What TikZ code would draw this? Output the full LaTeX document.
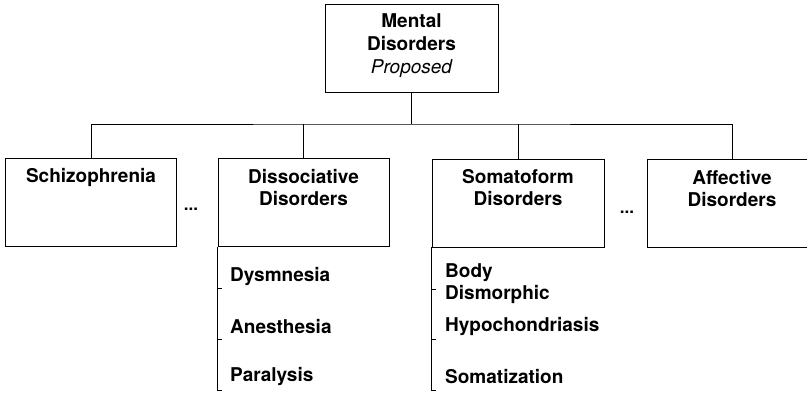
\documentclass[tikz,border=0pt]{standalone}
\usepackage{fontspec}
\setmainfont{TeX Gyre Heros}
\usetikzlibrary{positioning}
\tikzstyle{block} = [draw, rectangle, minimum width=171pt, minimum height=88pt, line width=0.9pt]
\tikzstyle{title} = [align=center, anchor=north, inner sep=0pt, font=\fontsize{19}{22}\selectfont\bfseries]
\tikzstyle{item} = [anchor=west, align=left, inner sep=0pt, font=\fontsize{19}{22}\selectfont\bfseries]
\tikzstyle{dots} = [inner sep=0pt, font=\fontsize{17}{17}\selectfont\bfseries]
\tikzstyle{link} = [line width=0.9pt]

\begin{document}
\begin{tikzpicture}[x=1pt,y=-1pt]
\useasboundingbox (0,0) rectangle (807,393);
\clip (0,0) rectangle (807,393);
\node [block, minimum width=173pt] (mental) at (411.5,48) {};
\node [title, below=10pt of mental.north, font=\fontsize{19}{23}\selectfont\bfseries] (mentalt) {Mental\\Disorders\\{\mdseries\itshape Proposed}};

\node [block] (schiz) at (91,202) {};
\node [block] (dissoc) at (303.5,202.5) {};
\node [block, minimum width=172pt] (somato) at (518,203) {};
\node [block, minimum width=170pt] (affect) at (732,203.5) {};

\node [title, below=11pt of schiz.north] (schizt) {Schizophrenia};
\node [title, below=11pt of dissoc.north] (dissoct) {Dissociative\\Disorders};
\node [title, below=11pt of somato.north] (somatot) {Somatoform\\Disorders};
\node [title, below=11pt of affect.north] (affectt) {Affective\\Disorders};

\node [dots] (dotsa) at (191,209) {...};
\node [dots] (dotsb) at (627,212) {...};

% the bus
\coordinate (bus) at (411.5,124);
\draw [link] (mental.south) -- (bus);
\draw [link] (schiz.north) |- (bus) -| (affect.north);
\draw [link] (dissoc.north) -- (dissoc.north |- bus);
\draw [link] (somato.north) -- (somato.north |- bus);

% sub-lists
\node [item] (dysm) at (230,277) {Dysmnesia};
\node [item] (anes) at (230,327) {Anesthesia};
\node [item] (para) at (230,377) {Paralysis};
\node [item] (body) at (445,284) {Body\\Dismorphic};
\node [item] (hypo) at (445,327) {Hypochondriasis};
\node [item] (soma) at (445,377) {Somatization};

\draw [link] (dissoc.south west) -- ++(0,143) -- ++(4,0);
\draw [link] ([yshift=-42pt]dissoc.south west) -- ++(4,0);
\draw [link] ([yshift=-92pt]dissoc.south west) -- ++(4,0);
\draw [link] (somato.south west) -- ++(0,143) -- ++(4,0);
\draw [link] ([yshift=-42pt]somato.south west) -- ++(4,0);
\draw [link] ([yshift=-92pt]somato.south west) -- ++(4,0);
\end{tikzpicture}
\end{document}
